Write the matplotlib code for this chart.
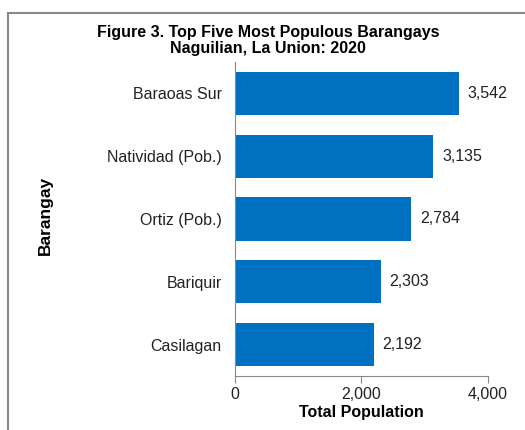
import matplotlib
matplotlib.use("Agg")
import matplotlib.pyplot as plt
from matplotlib.lines import Line2D

barangays = ["Baraoas Sur", "Natividad (Pob.)", "Ortiz (Pob.)", "Bariquir", "Casilagan"]
population = [3542, 3135, 2784, 2303, 2192]
xticks = [0, 2000, 4000]

plt.rcParams['font.family'] = ['Liberation Sans', 'DejaVu Sans']

fig = plt.figure(figsize=(5.25, 4.3), dpi=100)
ax = fig.add_axes([0.4476, 0.1256, 0.4819, 0.7302])

ypos = list(range(len(barangays)))
ax.barh(ypos, population, height=0.69, color='#0070C0')
ax.set_ylim(len(barangays) - 0.5, -0.5)
ax.set_xlim(0, 4000)
ax.set_yticks(ypos)
ax.set_yticklabels(barangays, fontsize=11.5, color='#222222')
ax.set_xticks(xticks)
ax.set_xticklabels([f"{v:,}" for v in xticks], fontsize=11.5, color='#222222')
ax.tick_params(axis='y', length=0, pad=9.5)
ax.tick_params(axis='x', length=5, color='#888888', pad=3)

for s in ['top', 'right']:
    ax.spines[s].set_visible(False)
for s in ['left', 'bottom']:
    ax.spines[s].set_color('#888888')

for y, v in zip(ypos, population):
    ax.text(v + 140, y, f"{v:,}", va='center', ha='left', fontsize=11.5, color='#222222')

ax.set_xlabel('Total Population', fontsize=11.5, fontweight='bold', labelpad=2)

fig.text(0.511, 0.905, 'Figure 3. Top Five Most Populous Barangays\nNaguilian, La Union: 2020',
         ha='center', va='center', fontsize=11.5, fontweight='bold', linespacing=1.1)
fig.text(0.086, 0.5, 'Barangay', rotation=90, ha='center', va='center',
         fontsize=12.5, fontweight='bold')

# outer chart border
fig.add_artist(Line2D([0.016, 1.0], [0.97, 0.97], color='#888888', lw=1.5))
fig.add_artist(Line2D([0.016, 0.016], [0.0, 0.97], color='#888888', lw=1.5))

fig.savefig('out.png', dpi=100)
